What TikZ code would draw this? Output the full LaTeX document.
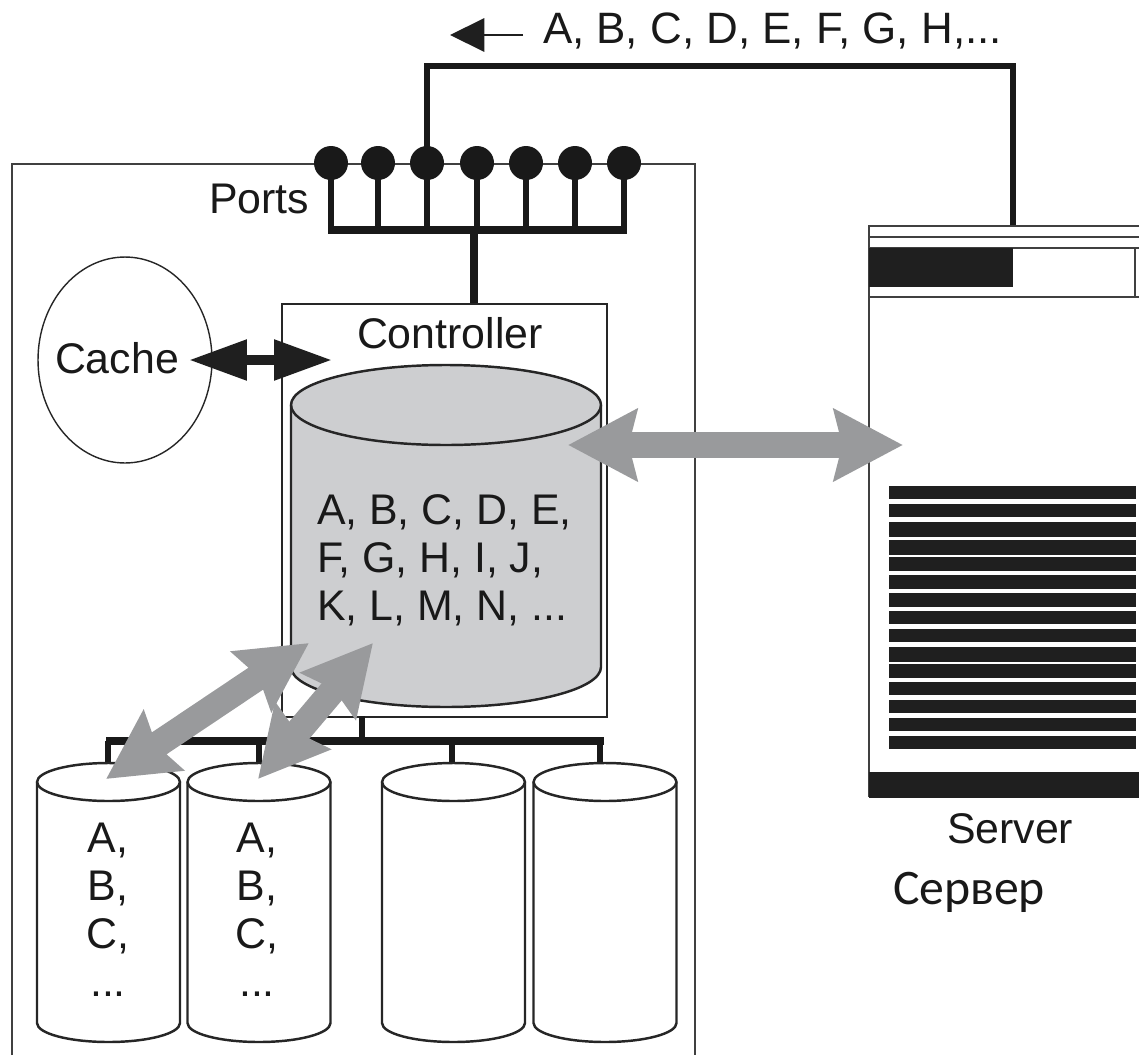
\documentclass[tikz,border=0pt]{standalone}
\usepackage{fontspec}
\setmainfont{Liberation Sans}
\newfontfamily\rusfont{Carlito}
\usetikzlibrary{arrows.meta,shapes.geometric}
\definecolor{arrowgray}{HTML}{999A9C}
\definecolor{cangray}{HTML}{CDCED0}
\tikzset{
  lbl/.style={inner sep=0pt,outer sep=0pt,font=\fontsize{24.4}{27.3}\selectfont,text=black!90},
  frameline/.style={draw=black!75,line width=.9pt},
  wire/.style={line width=3.2pt,draw=black!90},
  bus/.style={line width=5pt,draw=black!90},
  canline/.style={draw=black!85,line width=1.4pt},
  graylink/.style={draw=arrowgray,line width=15pt,{Stealth[length=39pt,width=40pt,inset=4.5pt]}-{Stealth[length=39pt,width=40pt,inset=4.5pt]}},
  darkbar/.style={fill=black!88}
}
\newcommand{\drawcan}[7]{
\coordinate (#1) at (#2,#3-#6);
\filldraw[canline,fill=#7] (#2-#5,#3) arc (180:360:#5 and #6) -- (#2+#5,#4) arc (0:180:#5 and #6) -- cycle;
\draw[canline] (#2-#5,#3) arc (180:0:#5 and #6);
}
\begin{document}
\begin{tikzpicture}[x=.02cm,y=-.02cm]
\useasboundingbox (0,0) rectangle (1139,1055);
\draw[frameline] (12,1055) -- (12,164) -- (695,164) -- (695,1055);
\foreach \n/\x in {1/331,2/378,3/427,4/477,5/526,6/575,7/624}
\node[circle,fill=black!90,minimum size=.68cm,inner sep=0pt] (port\n) at (\x,163) {};
\coordinate (busl) at (328,230);
\coordinate (busr) at (627,230);
\foreach \n in {1,...,7}
\draw[wire] (port\n.center) -- (port\n.center |- busl);
\draw[bus] (busl) -- (busr);
\coordinate (toprail) at (1013,66);
\coordinate (srvtop) at (1013,226);
\draw[wire] (port3.center) |- (toprail) -- (srvtop);
\node[lbl,anchor=base west] (ports) at (209,213) {Ports};
\node[draw=black!85,line width=.9pt,minimum width=6.5cm,minimum height=8.26cm,inner sep=0pt] (ctrl) at (444.5,510.5) {};
\coordinate (tapc) at (474,230);
\draw[bus] (tapc) -- (tapc |- ctrl.north);
\node[lbl,anchor=base west] (ctrllbl) at (357,348) {Controller};
\node[ellipse,draw=black!85,line width=.8pt,minimum width=3.48cm,minimum height=4.12cm,inner sep=0pt] (cache) at (125,360) {};
\node[lbl,anchor=base west] (cachelbl) at (55,373) {Cache};
\coordinate (cachetip) at (189,360);
\coordinate (ctrltip) at (332,360);
\draw[line width=5.5pt,draw=black!88,{Triangle[length=33pt,width=22pt]}-{Triangle[length=33pt,width=22pt]}] (cachetip) -- (ctrltip);
\drawcan{bigcan}{446}{405}{667}{155}{40}{cangray}
\node[lbl,align=left,anchor=west] (biglbl) at (317,560) {A, B, C, D, E,\\F, G, H, I, J,\\K, L, M, N, ...};
\coordinate (busdl) at (106,741);
\coordinate (busdr) at (604,741);
\coordinate (tapd) at (362,716);
\draw[wire] (tapd) -- (tapd |- busdl);
\draw[bus,line width=4pt] (busdl) -- (busdr);
\foreach \n/\x/\t in {1/108.5/108,2/259/259,3/453.5/452,4/605/600}{
\coordinate (tap\n) at (\t,741);
\draw[wire] (tap\n) -- (\t,763);
\drawcan{disk\n}{\x}{782}{1023}{71.5}{19}{white}
}
\foreach \n/\x in {a/108,b/257}
\node[lbl,align=center] (lbl\n) at (\x,910) {A,\\B,\\C,\\...};
\draw[frameline] (1139,226) -- (869,226) -- (869,797);
\draw[frameline] (869,237) -- (1139,237);
\draw[frameline] (869,248) -- (1139,248);
\draw[frameline] (869,297) -- (1139,297);
\draw[frameline] (1135,248) -- (1135,297);
\fill[darkbar] (869,248) rectangle (1013,287);
\foreach \t/\b in {486/499.3,504/516.7,522/537.3,540/554.7,557.3/570.7,575.3/588.7,593.3/606.7,611/624,629/642,646.7/661.7,664.3/677.7,682.3/695.3,700.3/713,718/730.7,736/748.7}
\fill[darkbar] (889,\t) rectangle (1136,\b);
\fill[darkbar] (869,772) rectangle (1139,798);
\node[lbl,anchor=base west] (srvlbl) at (947,843) {Server};
\node[lbl,anchor=base west,font=\rusfont\fontsize{28.3}{30}\selectfont] (srvrus) at (893,904) {Сервер};
\coordinate (biggray) at (568,445);
\coordinate (srvgray) at (903,445);
\draw[graylink] (biggray) -- (srvgray);
\coordinate (tipa) at (309,643);
\coordinate (disktipa) at (106,779);
\draw[graylink] (tipa) -- (disktipa);
\coordinate (tipb) at (373,643);
\coordinate (disktipb) at (258,779);
\draw[graylink] (tipb) -- (disktipb);
\coordinate (arrowtail) at (523,35);
\coordinate (arrowhead) at (450,35);
\draw[line width=.9pt,draw=black!88,-{Triangle[length=19.5pt,width=19pt]}] (arrowtail) -- (arrowhead);
\node[lbl,anchor=base west,font=\fontsize{25}{28}\selectfont] (toplbl) at (543,43) {A, B, C, D, E, F, G, H,...};
\end{tikzpicture}
\end{document}
